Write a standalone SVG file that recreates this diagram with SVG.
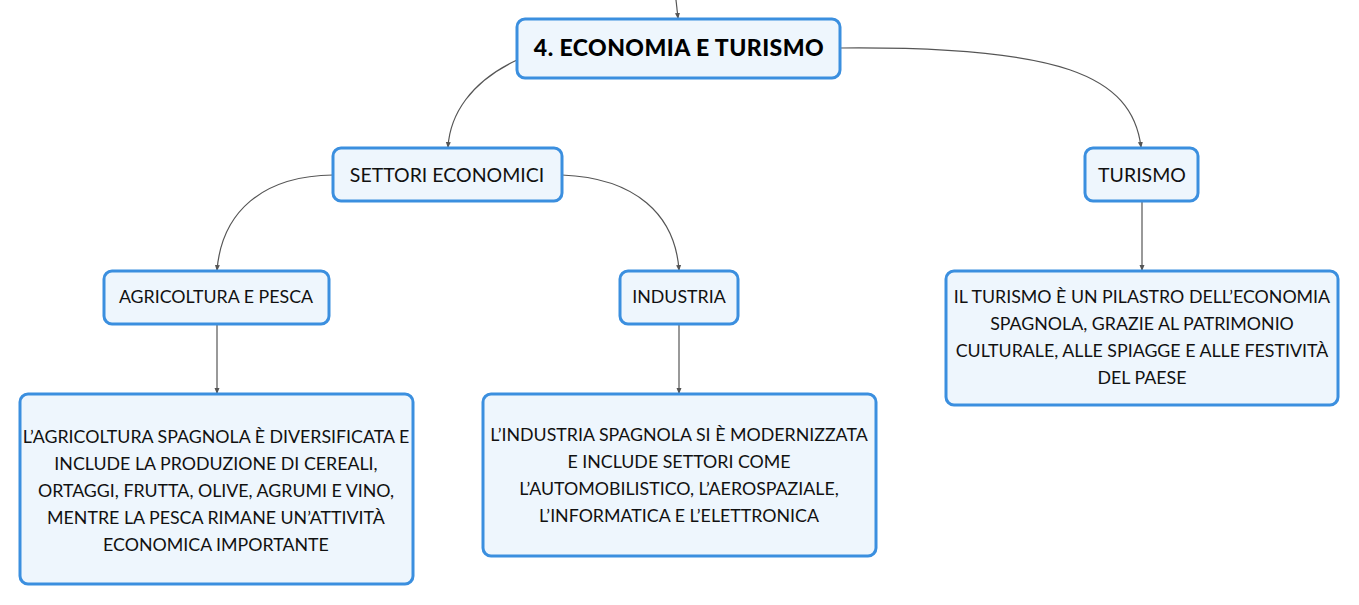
<svg xmlns="http://www.w3.org/2000/svg" width="1359" height="605" viewBox="0 0 1359 605">
<style>
.box{fill:#eef6fd;stroke:#3b8fdf;stroke-width:3}
.t{font-family:Lato,"Noto Sans",sans-serif;font-size:17.8px;fill:#111;text-anchor:middle}
.l1{font-size:19.5px}
.b{font-weight:900;font-size:23px;letter-spacing:0.45px;fill:#000}
.c{fill:none;stroke:#555;stroke-width:1.2}
</style>
<defs>
<marker id="a" viewBox="0 0 6 6" refX="5" refY="3" markerWidth="5" markerHeight="5" orient="auto">
<path d="M0,0.5 L6,3 L0,5.5 z" fill="#555"/>
</marker>
</defs>
<rect width="1359" height="605" fill="#fff"/>
<g id="connectors">
<path class="c" d="M676,0 L678,18" marker-end="url(#a)"/>
<path class="c" d="M517,60 C470,82 450,115 448,147" marker-end="url(#a)"/>
<path class="c" d="M840,48 C1060,46 1132,75 1141,147" marker-end="url(#a)"/>
<path class="c" d="M333,175 C262,176 222,212 217,270" marker-end="url(#a)"/>
<path class="c" d="M562,175 C636,178 675,215 679,270" marker-end="url(#a)"/>
<path class="c" d="M217,324 L217,393" marker-end="url(#a)"/>
<path class="c" d="M679,324 L679,393" marker-end="url(#a)"/>
<path class="c" d="M1142,201 L1142,270" marker-end="url(#a)"/>
</g>
<g id="main">
<rect class="box" x="517" y="19" width="323" height="59" rx="8"/>
<text class="t b" x="679" y="56">4. ECONOMIA E TURISMO</text>
</g>
<g id="settori">
<rect class="box" x="333" y="148" width="229" height="53" rx="8"/>
<text class="t l1" x="447" y="182">SETTORI ECONOMICI</text>
</g>
<g id="turismo">
<rect class="box" x="1085" y="148" width="113" height="53" rx="8"/>
<text class="t l1" x="1142" y="182">TURISMO</text>
</g>
<g id="agricoltura">
<rect class="box" x="104" y="271" width="225" height="53" rx="8"/>
<text class="t" x="216" y="303">AGRICOLTURA E PESCA</text>
</g>
<g id="industria">
<rect class="box" x="620" y="271" width="118" height="53" rx="8"/>
<text class="t" x="679" y="303">INDUSTRIA</text>
</g>
<g id="agri-desc">
<rect class="box" x="20" y="394" width="393" height="190" rx="8"/>
<text class="t" x="216" y="443">L’AGRICOLTURA SPAGNOLA È DIVERSIFICATA E</text>
<text class="t" x="216" y="470">INCLUDE LA PRODUZIONE DI CEREALI,</text>
<text class="t" x="216" y="497">ORTAGGI, FRUTTA, OLIVE, AGRUMI E VINO,</text>
<text class="t" x="216" y="524">MENTRE LA PESCA RIMANE UN’ATTIVITÀ</text>
<text class="t" x="216" y="551">ECONOMICA IMPORTANTE</text>
</g>
<g id="ind-desc">
<rect class="box" x="483" y="394" width="393" height="162" rx="8"/>
<text class="t" x="679" y="441">L’INDUSTRIA SPAGNOLA SI È MODERNIZZATA</text>
<text class="t" x="679" y="468">E INCLUDE SETTORI COME</text>
<text class="t" x="679" y="495">L’AUTOMOBILISTICO, L’AEROSPAZIALE,</text>
<text class="t" x="679" y="522">L’INFORMATICA E L’ELETTRONICA</text>
</g>
<g id="tur-desc">
<rect class="box" x="946" y="271" width="392" height="134" rx="8"/>
<text class="t" x="1142" y="303">IL TURISMO È UN PILASTRO DELL’ECONOMIA</text>
<text class="t" x="1142" y="330">SPAGNOLA, GRAZIE AL PATRIMONIO</text>
<text class="t" x="1142" y="357">CULTURALE, ALLE SPIAGGE E ALLE FESTIVITÀ</text>
<text class="t" x="1142" y="384">DEL PAESE</text>
</g>
</svg>
